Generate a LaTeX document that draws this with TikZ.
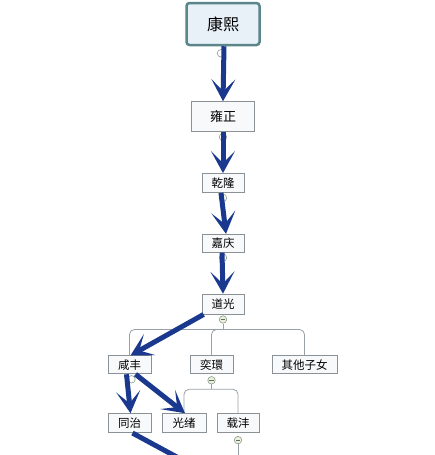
\documentclass[tikz,border=0pt]{standalone}
\usepackage{fontspec}
\setmainfont{Noto Sans CJK SC}
\usepackage{tikz}
\usetikzlibrary{positioning}
\usetikzlibrary{arrows.meta}
\definecolor{arrowblue}{HTML}{1A398E}
\definecolor{boxgray}{HTML}{8A9197}
\definecolor{boxfill}{HTML}{F7F9FB}
\definecolor{rootline}{HTML}{5A8589}
\definecolor{rootfill}{HTML}{E8F0F8}
\definecolor{branchgray}{HTML}{9AA1A6}
\definecolor{foldline}{HTML}{8C9C8C}
\definecolor{foldfill}{HTML}{E9F1DC}
\tikzstyle{reign edge}=[-{Stealth[length=22pt,width=24pt,inset=12pt]},line width=5pt,draw=arrowblue,fill=arrowblue]
\tikzstyle{branch}=[draw=branchgray,line width=0.8pt,rounded corners=5pt]
\tikzstyle{reign box}=[draw=boxgray,fill=boxfill,line width=0.8pt,inner sep=0pt,font=\fontsize{11.5}{12}\selectfont]
\tikzstyle{fold}=[circle,draw=foldline,fill=white,line width=0.6pt,minimum size=7.5pt,inner sep=0pt]
\tikzstyle{fold minus}=[fold,fill=foldfill,path picture={\draw[foldline!70!black,line width=0.7pt] ([xshift=-2.2pt]path picture bounding box.center) -- ([xshift=2.2pt]path picture bounding box.center);}]
\newcommand{\reignnode}[3][]{
  \node [reign box, #1] (#2) {#3}
}
\begin{document}
\begin{tikzpicture}[x=1pt,y=-1pt,node distance=41pt]
        \useasboundingbox (0,0) rectangle (435,455);
        \node [reign box, draw=rootline, fill=rootfill, line width=2.5pt, rounded corners=3pt,
               minimum width=73pt, minimum height=42pt, font=\fontsize{16}{18}\selectfont] (kangxi) at (223,24) {康熙};
        \reignnode[below=55pt of kangxi, minimum width=63pt, minimum height=30pt, font=\fontsize{13}{14}\selectfont]{yongzheng}{雍正};
        \reignnode[below=of yongzheng, minimum width=42pt, minimum height=19pt]{qianlong}{乾隆};
        \reignnode[below=of qianlong, minimum width=42pt, minimum height=18pt]{jiaqing}{嘉庆};
        \reignnode[below=of jiaqing, minimum width=42pt, minimum height=20pt]{daoguang}{道光};
                \reignnode[below=of daoguang, xshift=-93.5pt, minimum width=43pt, minimum height=18pt]{xianfeng}{咸丰};
                \reignnode[below=of daoguang, xshift=-11.5pt, minimum width=43pt, minimum height=18pt]{yihuan}{奕環};
                \reignnode[below=of daoguang, xshift=81.5pt, minimum width=65pt, minimum height=18pt]{qita}{其他子女};
                        \reignnode[below=39pt of xianfeng, minimum width=43pt, minimum height=19pt]{tongzhi}{同治};
                        \reignnode[below=39pt of xianfeng, xshift=54.5pt, minimum width=44pt, minimum height=19pt]{guangxu}{光绪};
                        \reignnode[below=39pt of xianfeng, xshift=108.5pt, minimum width=42pt, minimum height=19pt]{zaifeng}{载沣};

        % fold markers
        \node [fold, below=3pt of kangxi, xshift=-2pt] (kxfold) {};
        \node [fold, below=1pt of yongzheng] (yzfold) {};
        \node [fold, below=1pt of qianlong] (qlfold) {};
        \node [fold, below=1pt of jiaqing] (jqfold) {};
        \node [fold minus, below=1pt of daoguang] (dgfold) {};
        \node [fold, below=1pt of xianfeng, xshift=2pt] (xffold) {};
        \node [fold minus, below=2pt of yihuan] (yhfold) {};
        \node [fold minus, below=3pt of zaifeng] (zffold) {};
        \coordinate (zfchild) at (238,460);
        \coordinate (tzchild) at (186,462);

        % branches
        \draw[branch] (dgfold) -- ++(0,10) coordinate (dgfork);
        \draw[branch] (dgfork) -| (xianfeng.north);
        \draw[branch] (dgfork) -| (yihuan.north);
        \draw[branch] (dgfork) -| (qita.north);
        \draw[branch] (yhfold) -- ++(0,9) coordinate (yhfork);
        \draw[branch] (yhfork) -| (guangxu.north);
        \draw[branch] (yhfork) -| (zaifeng.north);
        \draw[branch] (zffold) -- (zfchild);

        % succession
        \draw[reign edge] ([xshift=1pt]kangxi.south) -- (yongzheng.north);
        \draw[reign edge] (yongzheng.south) -- (qianlong.north);
        \draw[reign edge] ([xshift=-2pt]qianlong.south) -- ([xshift=3pt]jiaqing.north);
        \draw[reign edge] ([xshift=-1pt]jiaqing.south) -- (daoguang.north);
        \draw[reign edge] ([xshift=2pt]daoguang.south west) -- ([xshift=1pt]xianfeng.north);
        \draw[reign edge] ([xshift=-3pt]xianfeng.south) -- ([xshift=1pt]tongzhi.north);
        \draw[reign edge] ([xshift=6pt]xianfeng.south) -- ([xshift=1pt]guangxu.north);
        \draw[line width=5pt,draw=arrowblue] ([xshift=3pt]tongzhi.south) -- (tzchild);
\end{tikzpicture}
\end{document}
